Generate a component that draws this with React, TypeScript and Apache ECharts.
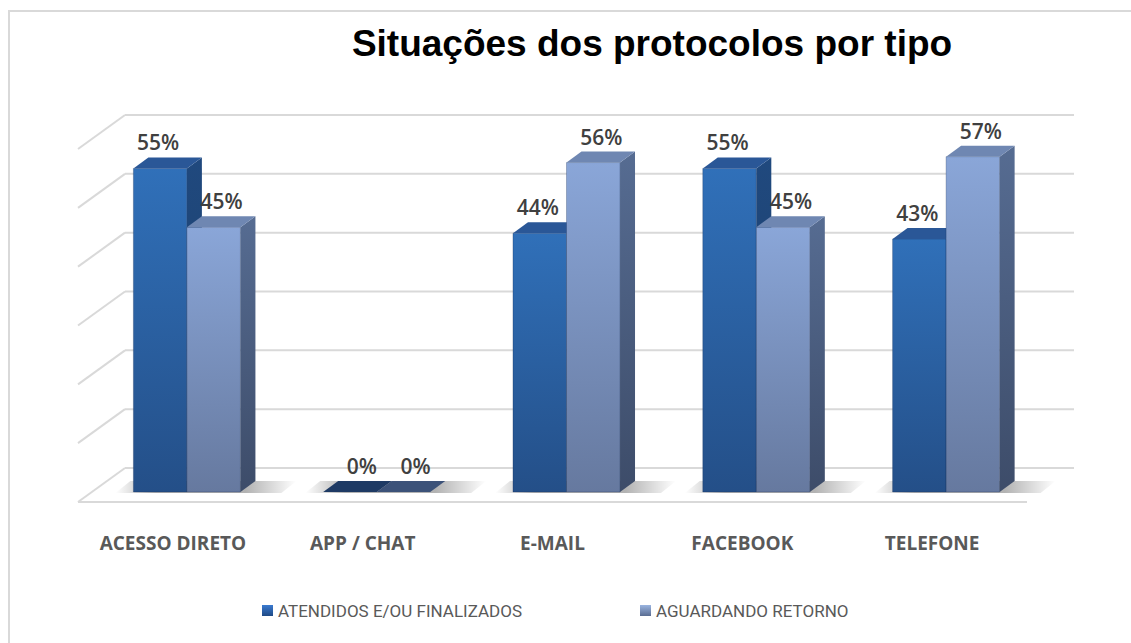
import React, { useEffect, useRef } from "react";
import * as echarts from "echarts";

const titleText = "Situações dos protocolos por tipo";
const categories = ["ACESSO DIRETO", "APP / CHAT", "E-MAIL", "FACEBOOK", "TELEFONE"];
const seriesNames = ["ATENDIDOS E/OU FINALIZADOS", "AGUARDANDO RETORNO"];
const atendidos = [55, 0, 44, 55, 43];
const aguardando = [45, 0, 56, 45, 57];
const gridTicks = [0, 10, 20, 30, 40, 50, 60];

// 3D projection offsets (pixels)
const DX = 47; // full depth of floor/wall
const DY = -34;
const FX = 14; // bar front plane offset from front of floor
const FY = -10;
const BDX = 15; // bar depth
const BDY = -11;
const BAR_FRAC = 0.282;
const LABEL_SHIFT = [-2, 8];

const lg = (a: string, b: string) => ({
  type: "linear", x: 0, y: 0, x2: 0, y2: 1,
  colorStops: [{ offset: 0, color: a }, { offset: 1, color: b }],
});
const lgh = (stops: [number, string][]) => ({
  type: "linear", x: 0, y: 0, x2: 1, y2: 0,
  colorStops: stops.map(([offset, color]) => ({ offset, color })),
});

const palette = [
  {
    front: lg("#3070b9", "#244f88"),
    side: lg("#20497e", "#1b3d68"),
    top: "#2a5797",
    topZero: "#1e3a64",
    legend: lg("#3a7ad0", "#1f4a85"),
  },
  {
    front: lg("#8aa6d8", "#66799f"),
    side: lg("#566c92", "#3d4c69"),
    top: "#6f87b2",
    topZero: "#3c5279",
    legend: lg("#9ab4e0", "#5a6d92"),
  },
];

function makeBarRender(sIdx: number) {
  return (params: any, api: any) => {
    const ci = api.value(0);
    const v = api.value(1);
    const base = api.coord([ci, 0]);
    const topP = api.coord([ci, v]);
    const bw = api.size([1, 0])[0];
    const w = bw * BAR_FRAC;
    const cx = base[0] + FX;
    const x0 = sIdx === 0 ? cx - w : cx;
    const x1 = x0 + w;
    const yb = base[1] + FY;
    const yt = topP[1] + FY;
    const pal = palette[sIdx];
    const children: any[] = [];
    if (sIdx === 0) {
      const sl = cx - w - 18;
      const sr = cx + w + BDX + 26;
      children.push({
        type: "polygon",
        shape: {
          points: [
            [sl, yb + 1],
            [sr, yb + 1],
            [sr + BDX, yb + BDY],
            [sl + BDX, yb + BDY],
          ],
        },
        style: {
          fill: lgh([
            [0, "rgba(0,0,0,0)"],
            [0.22, "rgba(0,0,0,0.3)"],
            [0.72, "rgba(0,0,0,0.3)"],
            [1, "rgba(0,0,0,0)"],
          ]),
        },
        silent: true,
      });
    }
    if (v > 0) {
      children.push({
        type: "rect",
        shape: { x: x0, y: yt, width: w, height: yb - yt },
        style: { fill: pal.front, stroke: "rgba(20,40,80,0.35)", lineWidth: 0.8 },
      });
      children.push({
        type: "polygon",
        shape: {
          points: [
            [x1, yt],
            [x1 + BDX, yt + BDY],
            [x1 + BDX, yb + BDY],
            [x1, yb],
          ],
        },
        style: { fill: pal.side },
      });
    }
    children.push({
      type: "polygon",
      shape: {
        points: [
          [x0, yt],
          [x0 + BDX, yt + BDY],
          [x1 + BDX, yt + BDY],
          [x1, yt],
        ],
      },
      style: { fill: v > 0 ? pal.top : pal.topZero },
    });
    children.push({
      type: "text",
      x: (x0 + x1) / 2 + (v > 0 ? LABEL_SHIFT[sIdx] : 12),
      y: yt - 26,
      style: {
        text: v + "%",
        fill: "#404040",
        font: "600 21px 'Open Sans', sans-serif",
        align: "center",
        verticalAlign: "middle",
      },
    });
    return { type: "group", children };
  };
}

const wallRender = (params: any, api: any) => {
  const v = api.value(1);
  const p = api.coord([0, v]);
  const bw = api.size([1, 0])[0];
  const xl = p[0] - bw / 2;
  const xr = xl + bw * categories.length;
  const st = { stroke: "#d9d9d9", lineWidth: 2 };
  const children: any[] = [
    { type: "line", shape: { x1: xl + DX, y1: p[1] + DY, x2: xr + DX, y2: p[1] + DY }, style: st },
    { type: "line", shape: { x1: xl, y1: p[1], x2: xl + DX, y2: p[1] + DY }, style: st },
  ];
  if (v === 0) {
    children.push({ type: "line", shape: { x1: xl, y1: p[1], x2: xr, y2: p[1] }, style: st });
  }
  return { type: "group", children };
};

export default function App() {
  const ref = useRef<HTMLDivElement>(null);
  useEffect(() => {
    if (!ref.current) return;
    const chart = echarts.init(ref.current, undefined, { renderer: "svg" });
    const legendText = {
      color: "#595959",
      fontSize: 17,
      fontFamily: "Roboto, sans-serif",
    };
    chart.setOption({
      animation: false,
      backgroundColor: "#ffffff",
      title: {
        text: titleText,
        left: 647,
        textAlign: "center",
        top: 20,
        textStyle: {
          fontSize: 37,
          fontWeight: "bold",
          fontFamily: "'Liberation Sans', Arial, sans-serif",
          color: "#000000",
        },
      },
      graphic: [
        {
          type: "rect",
          shape: { x: 9, y: 11, width: 1200, height: 700 },
          style: { fill: "none", stroke: "#d9d9d9", lineWidth: 2 },
          silent: true,
          z: -10,
        },
      ],
      legend: [
        {
          data: [{ name: seriesNames[0], itemStyle: { color: palette[0].legend } }],
          left: 257,
          top: 597,
          icon: "rect",
          itemWidth: 11,
          itemHeight: 11,
          textStyle: legendText,
          selectedMode: false,
        },
        {
          data: [{ name: seriesNames[1], itemStyle: { color: palette[1].legend } }],
          left: 635,
          top: 597,
          icon: "rect",
          itemWidth: 11,
          itemHeight: 11,
          textStyle: legendText,
          selectedMode: false,
        },
      ],
      grid: { left: 78, top: 149, width: 949, height: 353 },
      xAxis: {
        type: "category",
        data: categories,
        boundaryGap: true,
        axisLine: { show: false },
        axisTick: { show: false },
        axisLabel: {
          interval: 0,
          hideOverlap: false,
          margin: 31,
          fontSize: 19,
          fontWeight: "bold",
          color: "#595959",
          fontFamily: "'Open Sans', sans-serif",
        },
      },
      yAxis: {
        type: "value",
        min: 0,
        max: 60,
        interval: 10,
        show: false,
        splitLine: { show: false },
      },
      series: [
        {
          type: "custom",
          name: "grid",
          silent: true,
          data: gridTicks.map((t) => [0, t]),
          renderItem: wallRender,
          z: 1,
        },
        {
          type: "custom",
          name: seriesNames[0],
          data: atendidos.map((v, i) => [i, v]),
          encode: { x: 0, y: 1 },
          renderItem: makeBarRender(0),
          itemStyle: { color: "#2c64a8" },
          z: 2,
        },
        {
          type: "custom",
          name: seriesNames[1],
          data: aguardando.map((v, i) => [i, v]),
          encode: { x: 0, y: 1 },
          renderItem: makeBarRender(1),
          itemStyle: { color: "#7c96c4" },
          z: 3,
        },
      ],
    });
    return () => chart.dispose();
  }, []);
  return (
    <div
      ref={ref}
      style={{ position: "absolute", left: 0, top: 0, width: 1131, height: 643 }}
    />
  );
}
